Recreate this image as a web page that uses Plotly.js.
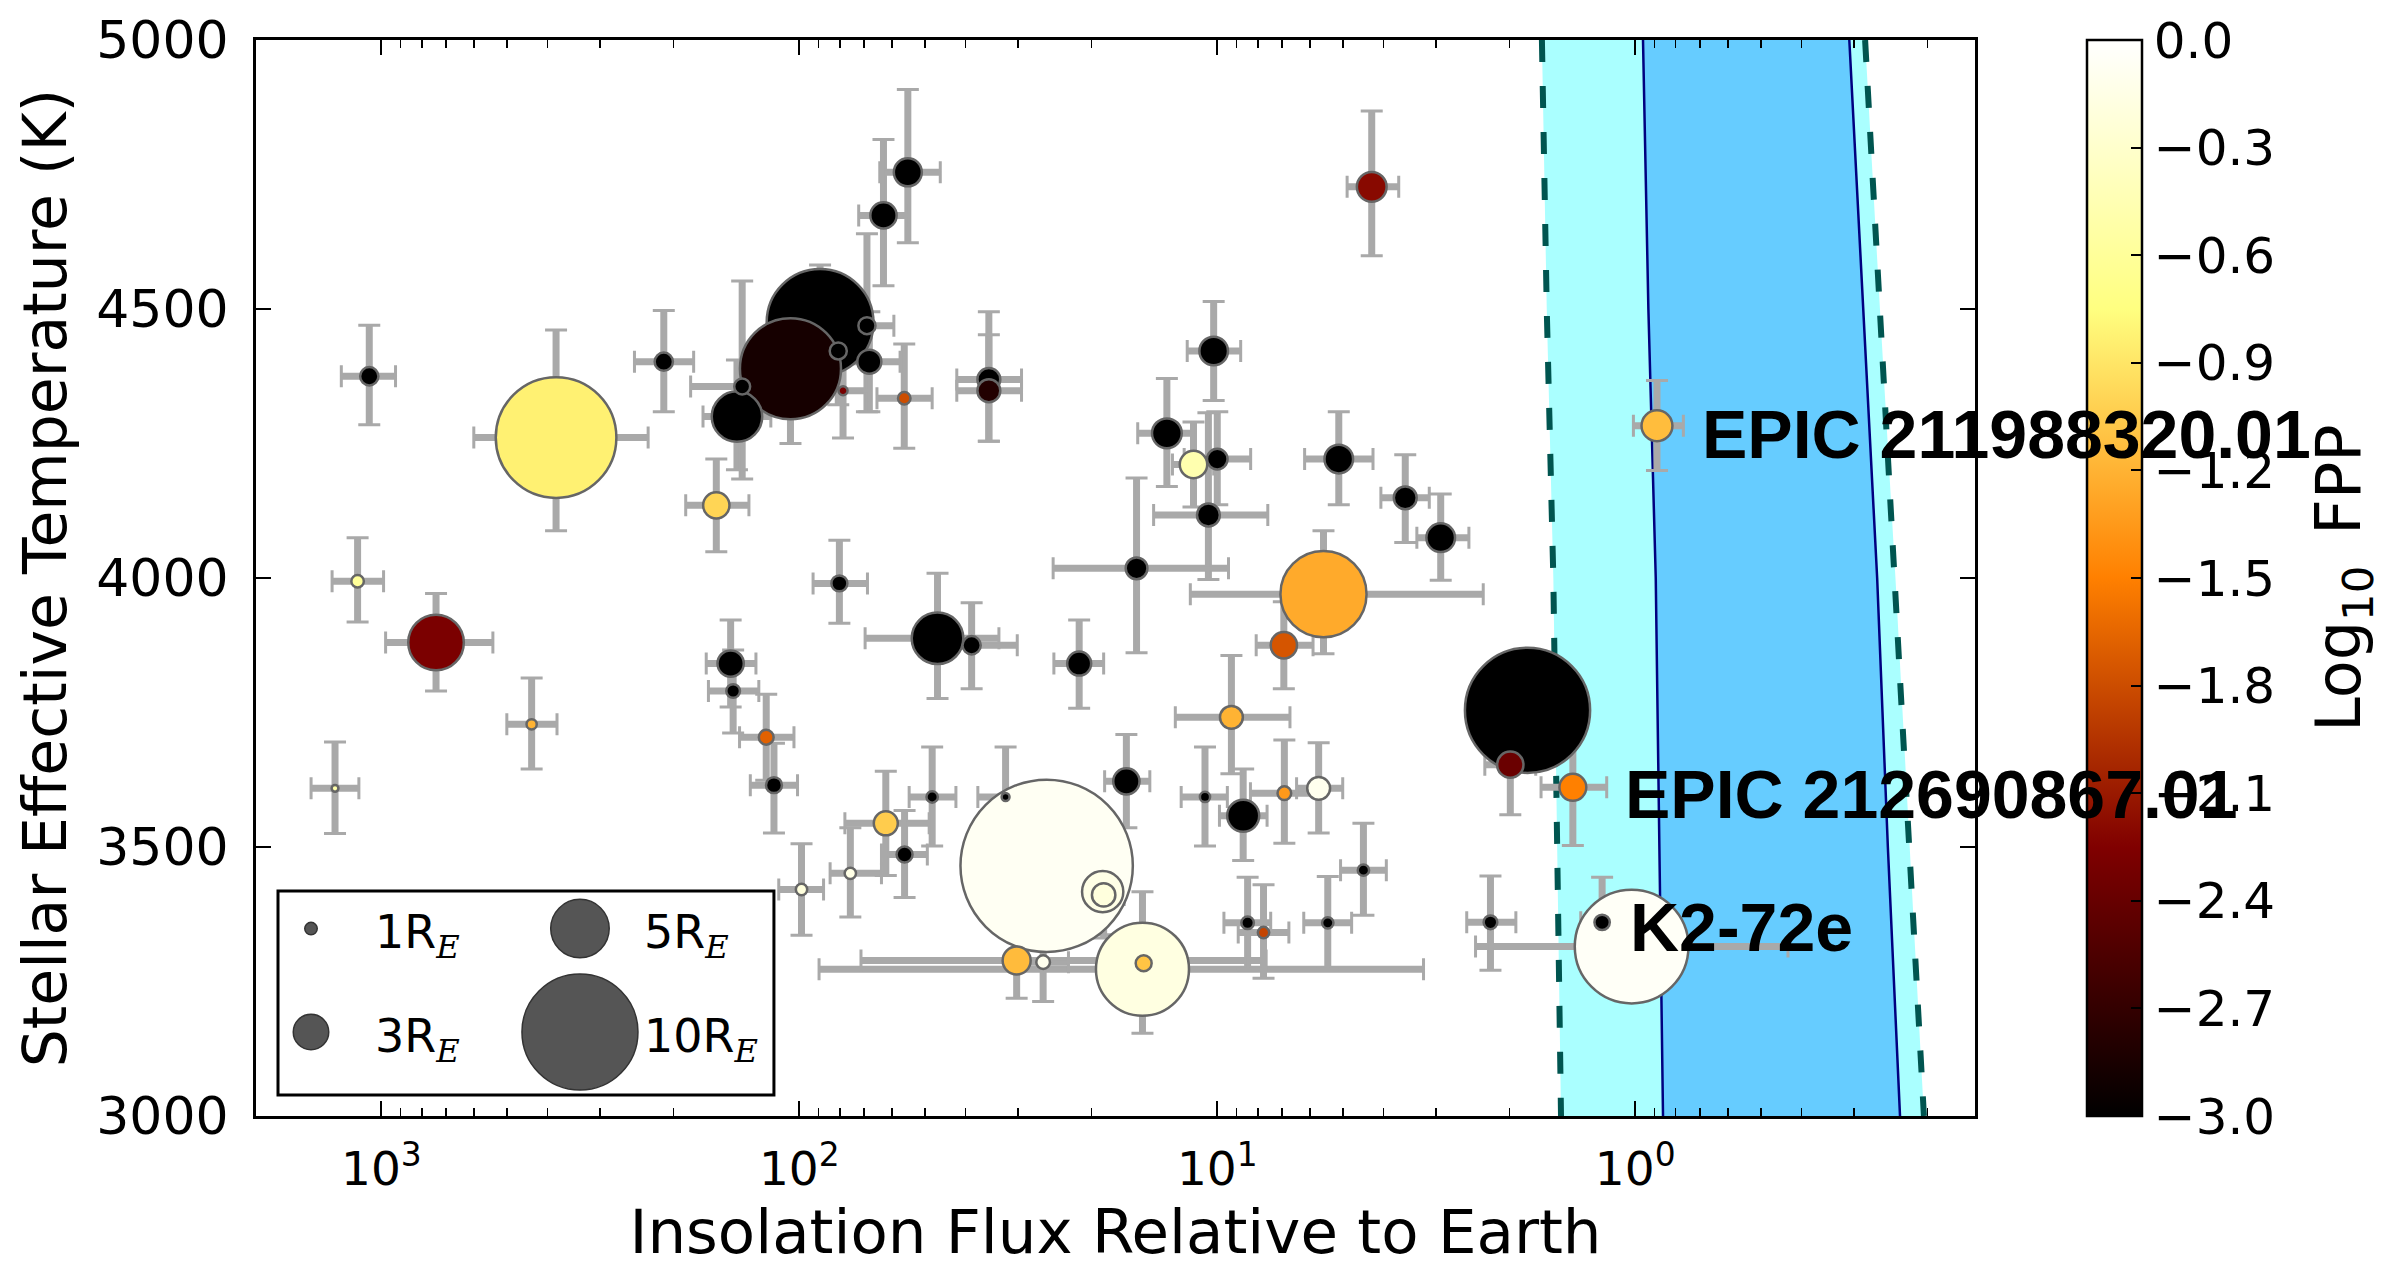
<!DOCTYPE html>
<html><head><meta charset="utf-8">
<script src="https://cdn.plot.ly/plotly-3.0.1.min.js"></script>
<style>html,body{margin:0;padding:0;background:#fff}#chart{width:2386px;height:1267px}</style>
</head><body><div id="chart"></div>
<script>
// ---------------- data ----------------
const planetFlux = [1069,382,211,158,141,137,105,89.2,68.9,80.7,68,78.6,56.1,35.2,35.2,55,62.9,4.27,10.2,13.2,11.4,10.0,10.5,5.12,3.55,2.92,15.6,5.57,0.887,1.81,1.99,1.41,1.02,1.20,2.22,1140,740,1291,437,146,144,120,115,98.8,80.2,46.7,38.7,21.4,6.93,9.25,62.1,48.1,56,75.5,32.1,25.6,15.1,30.2,26.1,15.0,18.8,18.7,16.5,10.7,8.67,6.91,5.72,4.47,8.46,7.75,5.44];
const planetTeff = [4375,4261,4402,4135,4300,4356,4389,4475,4469,4422,4402,4348,4334,4369,4348,4754,4674,4727,4422,4269,4211,4221,4117,4221,4149,4075,4018,3970,4283,3754,3653,3611,3315,3360,3360,3994,3880,3609,3728,3841,3790,3704,3615,3421,3990,3888,3875,3841,3875,3741,3544,3593,3486,3451,3593,3465,3273,3289,3286,3284,3417,3411,3622,3593,3558,3600,3609,3457,3359,3341,3359];
const planetRadius = [1.5,10.4,1.5,2.2,4.3,1.3,8.7,9.2,1.4,1.4,2.0,0.7,1.0,1.9,1.9,2.35,2.2,2.5,2.4,2.5,2.3,1.7,1.9,2.4,1.9,2.4,1.8,7.4,2.6,10.8,2.2,2.25,9.8,1.25,1.1,1.0,4.75,0.5,0.8,2.2,1.1,1.2,1.3,0.9,1.3,4.4,1.5,2.0,2.2,1.9,2.0,0.9,1.3,0.9,0.6,14.9,8.0,2.35,1.1,1.3,3.5,1.95,2.2,0.8,2.7,1.1,1.9,0.9,1.0,0.9,0.9];
const planetLogFPP = [-3,-0.83,-3,-1.0,-3,-3,-2.87,-3,-3,-3,-3,-2.3,-1.8,-3,-2.8,-3,-3,-2.2,-3,-3,-0.47,-3,-3,-3,-3,-3,-3,-1.25,-1.14,-3,-2.38,-1.5,-0.05,-3,-3,-0.6,-2.28,-0.5,-1.2,-3,-3,-1.68,-3,-0.2,-3,-3,-3,-3,-1.75,-1.2,-1.05,-3,-3,-0.15,-3,-0.07,-0.18,-1.15,-0.1,-1.1,-0.15,-0.2,-3,-3,-3,-1.35,-0.1,-3,-3,-1.85,-3];
const fluxLow = [925,230,179,132,117,103,83,71,59.4,70,57.4,67.7,48.1,29.4,29.4,46,54.6,3.68,8.79,11.4,10.2,8.32,7.57,4.24,3.11,2.50,9.4,2.31,0.767,1.62,1.73,1.17,0.431,1.07,1.93,988,541,1132,380,127,125,103,101,87.5,68.7,33.3,30.1,18.7,5.90,6.70,48.9,42.2,49.4,63.6,27.5,22.8,3.21,7.64,22.7,13.4,16.8,16.7,14.5,9.46,7.60,5.73,5.01,3.94,7.45,6.74,4.77];
const fluxHigh = [1247,601,248,187,170,182,132,112,80,93,80.5,91.2,65.2,42,42,64.2,72.1,4.89,11.8,15.5,12.8,12.0,14.2,6.18,4.06,3.33,24.7,11.6,1.01,2.02,2.29,1.68,2.41,1.35,2.53,1312,977,1473,501,167,165,139,131,112,92.7,69.6,49.8,24.6,8.07,12.6,77.8,54.6,63.6,84.4,37.4,28.7,89.7,71.2,30.0,16.8,21.1,20.9,18.6,12.2,9.88,8.33,6.46,5.07,9.64,8.91,6.21];
const teffErrUp = [95,200,95,86,105,196,139,107,171,100,93,88,101,126,104,154,141,141,92,102,79,88,190,88,80,81,168,118,84,80,93,108,80,84,86,81,91,86,86,81,76,80,78,85,80,121,79,81,81,115,97,93,82,85,93,80,144,70,73,70,80,80,87,93,87,99,85,87,85,89,86];
const teffErrDown = [90,173,93,86,99,172,139,107,160,100,93,88,93,115,94,131,131,128,92,99,79,85,120,85,83,79,157,111,83,80,93,108,80,84,89,76,90,84,83,81,78,80,89,85,74,112,81,83,81,105,97,91,80,81,93,80,119,70,73,70,80,80,86,91,83,93,83,84,87,85,86];

const labelNames = ['EPIC 211988320.01','EPIC 212690867.01','K2-72e'];
const labelIdx = [28,31,33];

// habitable-zone boundaries (flux vs Teff)
const hzTeff = [5000,4500,4000,3500,3000];
const hzRecentVenus = [1.672,1.628,1.570,1.536,1.505];
const hzRunaway = [0.958,0.930,0.893,0.875,0.858];
const hzMaxGreenhouse = [0.3074,0.2843,0.2637,0.2486,0.2325];
const hzEarlyMars = [0.2818,0.2597,0.2384,0.2202,0.2038];

const legendRadii = [1,3,5,10];
const legendLabels = ['1R','3R','5R','10R'];

const xTickVals = [1000,100,10,1];
const xTickText = ['10<sup>3</sup>','10<sup>2</sup>','10<sup>1</sup>','10<sup>0</sup>'];
const yTickVals = [3000,3500,4000,4500,5000];
const cbTickVals = [0,-0.3,-0.6,-0.9,-1.2,-1.5,-1.8,-2.1,-2.4,-2.7,-3.0];

// ---------------- styling / construction ----------------
const FONT = 'DejaVu Sans';
const sizeOf = r => 11.5*r + 1;
const afmhot = [[0,'#000000'],[0.25,'#800000'],[0.5,'#ff8000'],[0.75,'#ffff80'],[1,'#ffffff']];
const order = planetRadius.map((r,i)=>i).sort((a,b)=>planetRadius[b]-planetRadius[a]);
const pick = arr => order.map(i=>arr[i]);
const rev = a => a.slice().reverse();

const errX = {type:'data', symmetric:false,
  array: fluxHigh.map((v,i)=>v-planetFlux[i]),
  arrayminus: planetFlux.map((v,i)=>v-fluxLow[i])};
const errY = {type:'data', symmetric:false, array: teffErrUp, arrayminus: teffErrDown};
const barColor = '#a9a9a9';

const traces = [
  {x: hzRecentVenus.concat(rev(hzEarlyMars)), y: hzTeff.concat(rev(hzTeff)), mode:'lines',
   fill:'toself', fillcolor:'#aaffff', line:{width:0}, hoverinfo:'skip', showlegend:false},
  {x: hzRunaway.concat(rev(hzMaxGreenhouse)), y: hzTeff.concat(rev(hzTeff)), mode:'lines',
   fill:'toself', fillcolor:'#66ccff', line:{width:0}, hoverinfo:'skip', showlegend:false},
  {x: hzRecentVenus, y: hzTeff, mode:'lines', line:{color:'#005550', width:6, dash:'22px,24px'}, hoverinfo:'skip', showlegend:false},
  {x: hzEarlyMars, y: hzTeff, mode:'lines', line:{color:'#005550', width:6, dash:'22px,24px'}, hoverinfo:'skip', showlegend:false},
  {x: hzRunaway, y: hzTeff, mode:'lines', line:{color:'#000080', width:2.5}, hoverinfo:'skip', showlegend:false},
  {x: hzMaxGreenhouse, y: hzTeff, mode:'lines', line:{color:'#000080', width:2.5}, hoverinfo:'skip', showlegend:false},
  // error bars (thick bars)
  {x: planetFlux, y: planetTeff, mode:'markers', marker:{size:1, color:'rgba(0,0,0,0)'},
   error_x: Object.assign({color:barColor, thickness:7, width:0}, errX),
   error_y: Object.assign({color:barColor, thickness:7, width:0}, errY),
   hoverinfo:'skip', showlegend:false},
  // error bar caps
  {x: planetFlux, y: planetTeff, mode:'markers', marker:{size:1, color:'rgba(0,0,0,0)'},
   error_x: Object.assign({color:barColor, thickness:3, width:11}, errX),
   error_y: Object.assign({color:barColor, thickness:3, width:11}, errY),
   hoverinfo:'skip', showlegend:false},
  // planets
  {x: pick(planetFlux), y: pick(planetTeff), mode:'markers', hoverinfo:'skip', showlegend:false,
   marker:{size: pick(planetRadius).map(sizeOf), color: pick(planetLogFPP), colorscale: afmhot,
     cmin:-3, cmax:0, opacity:1, line:{color:'#666666', width:2.5},
     colorbar:{x:(2087.5-256)/1719, xanchor:'left', y:0.5, yanchor:'middle', len:1, lenmode:'fraction',
       thickness:55, thicknessmode:'pixels', outlinewidth:2.5, outlinecolor:'#000', xpad:0, ypad:0,
       tickmode:'array', tickvals:cbTickVals,
       ticktext: cbTickVals.map(v => (v===0 ? '0.0' : '\u2212'+Math.abs(v).toFixed(1)) + '\u2002'),
       ticks:'inside', ticklen:12, tickwidth:2, tickcolor:'#000',
       tickfont:{family:FONT, size:50, color:'#000'},
       title:{text:'Log<sub>10</sub>\u2002FPP', side:'right', font:{family:FONT, size:62, color:'#000'}}}}},
  // size legend
  {x: legendRadii.map((r,i)=>Math.floor(i/2)), y: legendRadii.map((r,i)=>i%2), xaxis:'x2', yaxis:'y2',
   mode:'markers', hoverinfo:'skip', showlegend:false, cliponaxis:false,
   marker:{size: legendRadii.map(sizeOf), color:'#555555', opacity:1, line:{color:'#333333', width:1.5}}}
];

const minorVals = [];
for (let k=-1; k<=3; k++) for (let m=2; m<=9; m++) minorVals.push(m*Math.pow(10,k));

const annotations = labelIdx.map((idx,j)=>({
  x: Math.log10(planetFlux[idx]), y: planetTeff[idx], xref:'x', yref:'y',
  text:'<b>'+labelNames[j]+'</b>', showarrow:false, xanchor:'left', yanchor:'middle',
  xshift:[43,50,26][j], yshift:[-8,-7,-5][j],
  font:{family:'Liberation Sans', size:68, color:'#000'}
}));
legendLabels.forEach((t,i)=>{
  annotations.push({x: Math.floor(i/2), y: i%2, xref:'x2', yref:'y2', showarrow:false,
    xanchor:'left', yanchor:'middle', xshift:62, yshift:-7,
    text: t+'<sub><span style="font-family:DejaVu Serif"><i>E</i></span></sub>',
    font:{family:FONT, size:46, color:'#000'}});
});

const layout = {
  width:2386, height:1267,
  margin:{l:256, r:411, t:40, b:151, pad:0, autoexpand:false},
  paper_bgcolor:'#ffffff', plot_bgcolor:'#ffffff',
  showlegend:false,
  xaxis:{type:'log', range:[3.300,-0.813], domain:[0,1], anchor:'y',
    tickmode:'array', tickvals:xTickVals, ticktext:xTickText,
    ticks:'inside', ticklen:15, tickwidth:2, tickcolor:'#000',
    minor:{tickmode:'array', tickvals:minorVals, ticks:'inside', ticklen:8, tickwidth:1.5, tickcolor:'#000', showgrid:false},
    showline:true, linewidth:3, linecolor:'#000', mirror:'allticks', showgrid:false, zeroline:false,
    tickfont:{family:FONT, size:47, color:'#000'}, ticklabelstandoff:10,
    title:{text:'Insolation Flux Relative to Earth', font:{family:FONT, size:61, color:'#000'}, standoff:22}},
  yaxis:{range:[3000,5000], domain:[0,1], anchor:'x',
    tickmode:'array', tickvals:yTickVals,
    ticks:'inside', ticklen:15, tickwidth:2, tickcolor:'#000',
    showline:true, linewidth:3, linecolor:'#000', mirror:'allticks', showgrid:false, zeroline:false,
    tickfont:{family:FONT, size:52, color:'#000'}, ticklabelstandoff:14,
    title:{text:'Stellar Effective Temperature (K)', font:{family:FONT, size:60, color:'#000'}, standoff:11}},
  xaxis2:{domain:[0.0128,0.3013], anchor:'y2', range:[-0.1227,1.7212], visible:false, fixedrange:true},
  yaxis2:{domain:[0.0195,0.2091], anchor:'x2', range:[1.609,-0.3636], visible:false, fixedrange:true},
  shapes:[{type:'rect', xref:'x2 domain', yref:'y2 domain', x0:0, x1:1, y0:0, y1:1,
    line:{color:'#000', width:3}, fillcolor:'rgba(0,0,0,0)', layer:'above'}],
  annotations: annotations
};

Plotly.newPlot('chart', traces, layout, {staticPlot:true, displayModeBar:false});
</script></body></html>
